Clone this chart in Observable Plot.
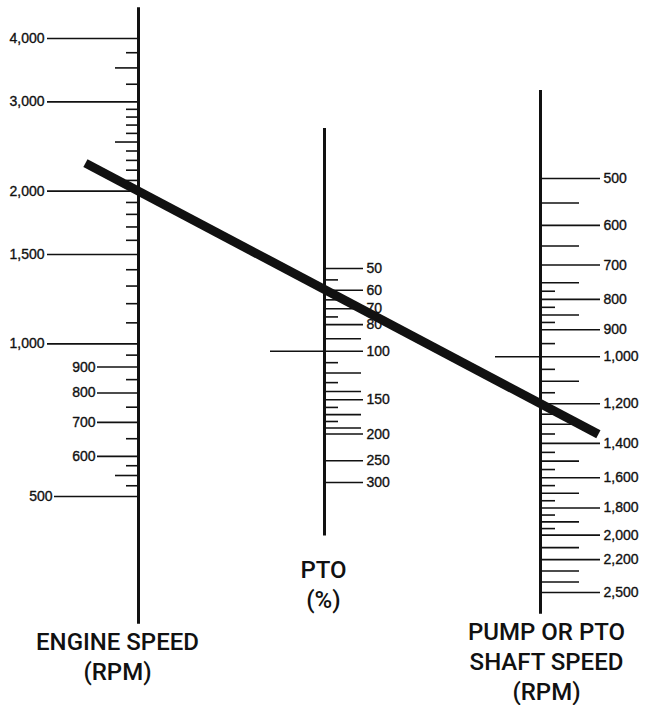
<!DOCTYPE html>
<html>
<head>
<meta charset="utf-8">
<script src="https://cdn.jsdelivr.net/npm/d3@7"></script>
<script src="https://cdn.jsdelivr.net/npm/@observablehq/plot@0.6"></script>
<style>
html, body { margin: 0; padding: 0; background: #fff; }
#chart { width: 645px; height: 705px; }
</style>
</head>
<body>
<div id="chart"></div>
<script>
// ---------- DATA ----------
// Engine speed scale (RPM), left axis
const engineThousands = [1000, 1500, 2000, 3000, 4000];
const engineHundreds = [600, 700, 800, 900];
const engineBase = [500];
const engineMidTicks = [550, 2500, 3500];
const engineShortTicks = [525, 575, 650, 750, 850, 950, 1100, 1200, 1300, 1400,
  1600, 1700, 1800, 1900, 2100, 2200, 2300, 2400, 2600, 2700, 2800, 2900, 3250, 3750];
const engineExtent = [280, 4600];

// PTO ratio scale (%), middle axis
const ptoLabels = [50, 60, 70, 80, 100, 150, 200, 250, 300];
const ptoMidTicks = [90, 120, 140, 170, 190];
const ptoShortTicks = [55, 65, 75, 110, 130, 160, 180];
const ptoCross = [100];
const ptoExtent = [15.5, 470];

// Pump or PTO shaft speed scale (RPM), right axis
const pumpLabels = [500, 600, 700, 800, 900, 1000, 1200, 1400, 1600, 1800, 2000, 2200, 2500];
const pumpMidTicks = [550, 650, 750, 850, 1100, 1300, 1500, 1700, 1900, 2100, 2300, 2400];
const pumpShortTicks = [775, 825, 875, 950, 1050, 1150, 1250, 1350, 1450, 1550, 1650, 1750, 1850, 1950];
const pumpCross = [1000];
const pumpExtent = [355, 2720];

// Example reading: 2,000 RPM engine -> 60 % PTO -> 1,200 RPM pump
const exampleEngine = 2000;
const examplePump = 1200;

// Titles
const engineTitle = ["ENGINE SPEED", "(RPM)"];
const ptoTitle = ["PTO", "(%)"];
const pumpTitle = ["PUMP OR PTO", "SHAFT SPEED", "(RPM)"];

// ---------- SCALES ----------
const eY = Plot.scale({y: {type: "log", domain: [500, 4000], range: [496, 38]}});
const pY = Plot.scale({y: {type: "log", domain: [50, 300], range: [268, 482]}});
const wY = Plot.scale({y: {type: "log", domain: [500, 2500], range: [178, 592]}});

const AX = {engine: 138, pto: 324, pump: 540};
const fmt = d3.format(",");
const INK = "#111";
const numFont = {fontFamily: "'Liberation Sans', Arial, sans-serif", fontSize: 14, fill: INK, stroke: INK, strokeWidth: 0.35};
const titleFont = {fontFamily: "Roboto, 'Liberation Sans', sans-serif", fontSize: 24, fontWeight: 500, fill: INK, lineHeight: 1.25, lineAnchor: "top", textAnchor: "middle"};
const tick = {stroke: INK, strokeWidth: 1.6};

const axisLine = (x, sc, ext) => Plot.ruleX([x], {x: d => d, y1: sc.apply(ext[0]), y2: sc.apply(ext[1]), stroke: INK, strokeWidth: 3});
const ticks = (vals, sc, x1, x2) => Plot.ruleY(vals, {y: d => sc.apply(d), x1, x2, ...tick});
const labels = (vals, sc, x, anchor) => Plot.text(vals, {y: d => sc.apply(d), x, text: d => fmt(d), textAnchor: anchor, ...numFont});

// Example line through the engine and pump readings, extended past both axes
const p0 = [AX.engine, eY.apply(exampleEngine)];
const p1 = [AX.pump, wY.apply(examplePump)];
const ext = [-0.132, 1.144];
const linePts = ext.map(t => [p0[0] + t * (p1[0] - p0[0]), p0[1] + t * (p1[1] - p0[1])]);

const chart = Plot.plot({
  width: 645,
  height: 705,
  margin: 0,
  x: {type: "identity", axis: null},
  y: {type: "identity", axis: null},
  style: {background: "#fff", color: INK},
  marks: [
    // Engine axis
    axisLine(AX.engine, eY, engineExtent),
    ticks(engineThousands, eY, 47, AX.engine),
    ticks(engineHundreds, eY, 97, AX.engine),
    ticks(engineBase, eY, 54, AX.engine),
    ticks(engineMidTicks, eY, 115, AX.engine),
    ticks(engineShortTicks, eY, 126, AX.engine),
    labels(engineThousands, eY, 44, "end"),
    labels(engineHundreds, eY, 95, "end"),
    labels(engineBase, eY, 52, "end"),

    // PTO axis
    axisLine(AX.pto, pY, ptoExtent),
    ticks(ptoLabels, pY, AX.pto, 363),
    ticks(ptoCross, pY, 270, AX.pto),
    ticks(ptoMidTicks, pY, AX.pto, 361),
    ticks(ptoShortTicks, pY, AX.pto, 338),
    labels(ptoLabels, pY, 366, "start"),

    // Pump axis
    axisLine(AX.pump, wY, pumpExtent),
    ticks(pumpLabels, wY, AX.pump, 600),
    ticks(pumpCross, wY, 495, AX.pump),
    ticks(pumpMidTicks, wY, AX.pump, 579),
    ticks(pumpShortTicks, wY, AX.pump, 555),
    labels(pumpLabels, wY, 603, "start"),

    // Example line
    Plot.line(linePts, {x: d => d[0], y: d => d[1], stroke: INK, strokeWidth: 9, strokeLinecap: "butt"}),

    // Titles
    Plot.text([engineTitle.join("\n")], {x: 117, y: 628, text: d => d, ...titleFont}),
    Plot.text([ptoTitle.join("\n")], {x: 323, y: 556, text: d => d, ...titleFont}),
    Plot.text([pumpTitle.join("\n")], {x: 546, y: 618, text: d => d, ...titleFont})
  ]
});
document.getElementById("chart").appendChild(chart);
</script>
</body>
</html>
